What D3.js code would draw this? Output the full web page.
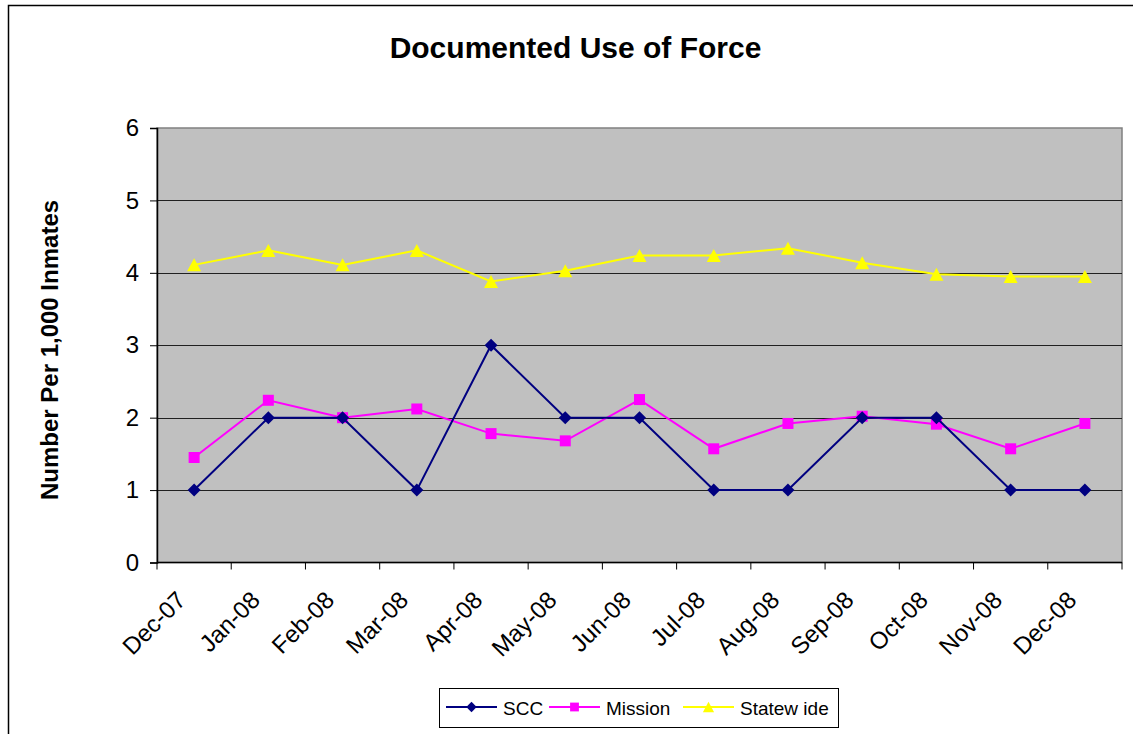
<!DOCTYPE html>
<html lang="en">
<head>
<meta charset="utf-8">
<title>Documented Use of Force</title>
<script src="https://d3js.org/d3.v7.min.js"></script>
<style>
  body { margin: 0; background: #fff; font-family: "Liberation Sans", Arial, sans-serif; }
  svg { display: block; }
</style>
</head>
<body>
<script>
// chart data
var months = ["Dec-07","Jan-08","Feb-08","Mar-08","Apr-08","May-08","Jun-08",
              "Jul-08","Aug-08","Sep-08","Oct-08","Nov-08","Dec-08"];
var scc       = [1, 2, 2, 1, 3, 2, 2, 1, 1, 2, 2, 1, 1];
var mission   = [1.45, 2.24, 2.0, 2.12, 1.78, 1.68, 2.25, 1.57, 1.92, 2.02, 1.91, 1.57, 1.92];
var statewide = [4.11, 4.31, 4.11, 4.31, 3.88, 4.03, 4.24, 4.24, 4.34, 4.14, 3.98, 3.95, 3.95];
var yTicks = [0, 1, 2, 3, 4, 5, 6];

// marker shapes, drawn around (0,0); k scales them down for the legend
function diamond(k) { var r = 6.5 * k; return "M0," + (-r) + "L" + r + ",0L0," + r + "L" + (-r) + ",0Z"; }
function square(k)  { var r = 5.5 * k; return "M" + (-r) + "," + (-r) + "H" + r + "V" + r + "H" + (-r) + "Z"; }
function triangle(k){ var w = 7 * k, h = 6.5 * k; return "M0," + (-h) + "L" + w + "," + h + "L" + (-w) + "," + h + "Z"; }

var series = [
  { name: "SCC",        values: scc,       color: "#000080", marker: diamond },
  { name: "Mission",    values: mission,   color: "#FF00FF", marker: square },
  { name: "Statew ide", values: statewide, color: "#FFFF00", marker: triangle }
];

var width = 1133, height = 734;
var plot = { left: 157, top: 128, right: 1122, bottom: 562.5 };

var svg = d3.select("body").append("svg")
    .attr("width", width)
    .attr("height", height);

// chart frame (only the top and left edges are visible)
svg.append("path")
    .attr("d", "M8.5," + height + "V5.5H" + width)
    .attr("fill", "none")
    .attr("stroke", "#000")
    .attr("stroke-width", 1.5);

var x = d3.scaleBand()
    .domain(months)
    .range([plot.left, plot.right]);

var y = d3.scaleLinear()
    .domain([0, 6])
    .range([plot.bottom, plot.top]);

// plot background
svg.append("rect")
    .attr("x", plot.left)
    .attr("y", plot.top)
    .attr("width", plot.right - plot.left)
    .attr("height", plot.bottom - plot.top)
    .attr("fill", "#C0C0C0")
    .attr("stroke", "#808080")
    .attr("stroke-width", 1.5);

// gridlines
svg.append("g")
  .selectAll("line")
  .data(yTicks.slice(1, -1))
  .enter().append("line")
    .attr("x1", plot.left)
    .attr("x2", plot.right)
    .attr("y1", function(d) { return Math.round(y(d)) + 0.5; })
    .attr("y2", function(d) { return Math.round(y(d)) + 0.5; })
    .attr("stroke", "#202020")
    .attr("stroke-width", 1);

// y axis
var yAxis = svg.append("g")
    .attr("transform", "translate(" + plot.left + ",0)")
    .call(d3.axisLeft(y).tickValues(yTicks).tickSize(7).tickPadding(11).tickFormat(d3.format("d")));
yAxis.select(".domain").attr("stroke", "#000").attr("stroke-width", 1.5);
yAxis.selectAll(".tick line").attr("stroke", "#000");
yAxis.selectAll("text")
    .attr("font-size", 24)
    .attr("font-family", "Liberation Sans, Arial, sans-serif")
    .attr("fill", "#000");

// x axis: ticks sit between categories
var xAxisG = svg.append("g")
    .attr("transform", "translate(0," + plot.bottom + ")");
xAxisG.append("line")
    .attr("x1", plot.left).attr("x2", plot.right)
    .attr("stroke", "#000").attr("stroke-width", 1.5);
xAxisG.selectAll(".xtick")
  .data(months.concat(["end"]))
  .enter().append("line")
    .attr("class", "xtick")
    .attr("x1", function(d, i) { return plot.left + i * x.bandwidth(); })
    .attr("x2", function(d, i) { return plot.left + i * x.bandwidth(); })
    .attr("y1", 0).attr("y2", 7)
    .attr("stroke", "#000");
xAxisG.selectAll(".xlabel")
  .data(months)
  .enter().append("text")
    .attr("class", "xlabel")
    .attr("text-anchor", "end")
    .attr("font-size", 24)
    .attr("transform", function(d) {
      return "translate(" + (x(d) + x.bandwidth() / 2 - 7) + ",39) rotate(-45)";
    })
    .text(function(d) { return d; });

// lines and markers
var line = d3.line()
    .x(function(d, i) { return x(months[i]) + x.bandwidth() / 2; })
    .y(function(d) { return y(d); });

series.slice().reverse().forEach(function(s) {
  var g = svg.append("g");
  g.append("path")
      .attr("d", line(s.values))
      .attr("fill", "none")
      .attr("stroke", s.color)
      .attr("stroke-width", 2);
  g.selectAll("path.marker")
    .data(s.values)
    .enter().append("path")
      .attr("class", "marker")
      .attr("d", s.marker(1))
      .attr("transform", function(d, i) {
        return "translate(" + (x(months[i]) + x.bandwidth() / 2) + "," + y(d) + ")";
      })
      .attr("fill", s.color);
});

// title
svg.append("text")
    .attr("x", 575.5)
    .attr("y", 58)
    .attr("text-anchor", "middle")
    .attr("font-size", 30)
    .attr("font-weight", "bold")
    .text("Documented Use of Force");

// y axis title
svg.append("text")
    .attr("transform", "translate(58,350) rotate(-90)")
    .attr("text-anchor", "middle")
    .attr("font-size", 24)
    .attr("font-weight", "bold")
    .text("Number Per 1,000 Inmates");

// legend
var legend = svg.append("g");
legend.append("rect")
    .attr("x", 439.5).attr("y", 688.5)
    .attr("width", 399).attr("height", 39)
    .attr("fill", "#fff")
    .attr("stroke", "#000");
var legendX = [446, 549, 683];
series.forEach(function(s, i) {
  var lg = legend.append("g").attr("transform", "translate(" + legendX[i] + ",707)");
  lg.append("line")
      .attr("x1", 0).attr("x2", 51)
      .attr("stroke", s.color).attr("stroke-width", 2);
  lg.append("path")
      .attr("d", s.marker(0.8))
      .attr("transform", "translate(25.5,0)")
      .attr("fill", s.color);
  lg.append("text")
      .attr("x", 57)
      .attr("y", 7.5)
      .attr("font-size", 19)
      .text(s.name);
});
</script>
</body>
</html>
